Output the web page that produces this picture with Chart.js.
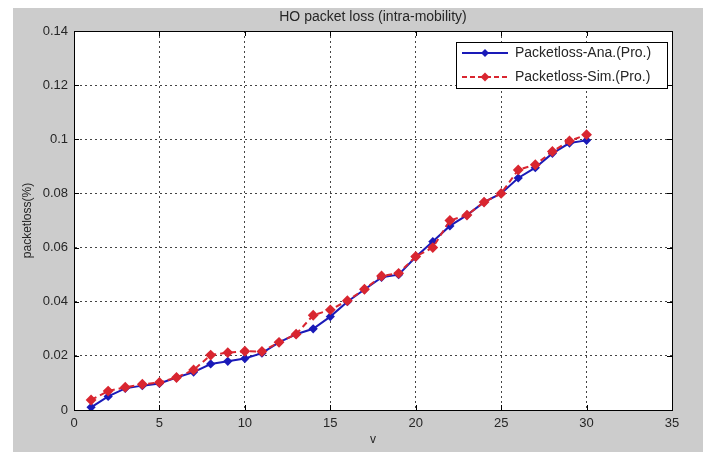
<!DOCTYPE html>
<html><head><meta charset="utf-8">
<script src="https://cdn.jsdelivr.net/npm/chart.js@4.4.1/dist/chart.umd.min.js"></script>
<style>html,body{margin:0;padding:0;background:#fff}</style>
</head><body>
<canvas id="c" width="711" height="452" style="display:block;width:711px;height:452px"></canvas>
<script>
const xValues = [1,2,3,4,5,6,7,8,9,10,11,12,13,14,15,16,17,18,19,20,21,22,23,24,25,26,27,28,29,30];
const anaValues = [0.001,0.005,0.008,0.009,0.0098,0.012,0.014,0.017,0.018,0.019,0.021,0.025,0.028,0.030,0.0345,0.040,0.0445,0.049,0.050,0.0565,0.0622,0.068,0.072,0.0768,0.080,0.0857,0.0895,0.0948,0.0986,0.0996];
const simValues = [0.0037,0.007,0.0084,0.0095,0.0102,0.012,0.0148,0.0203,0.0212,0.0217,0.0216,0.025,0.028,0.035,0.037,0.0404,0.0446,0.0495,0.0505,0.0567,0.060,0.070,0.072,0.0768,0.080,0.0887,0.0906,0.0955,0.0994,0.1017];
const xTicks = [0,5,10,15,20,25,30,35];
const yTicks = [0,0.02,0.04,0.06,0.08,0.1,0.12,0.14];
const yTickLabels = ['0','0.02','0.04','0.06','0.08','0.1','0.12','0.14'];
const seriesNames = ['Packetloss-Ana.(Pro.)','Packetloss-Sim.(Pro.)'];
const titleText = 'HO packet loss (intra-mobility)';
const xLabel = 'v';
const yLabel = 'packetloss(%)';

const FONT = "'Liberation Sans', Arial, Helvetica, sans-serif";
const BLUE = '#1a1ab8';
const RED = '#d92630';

function legendSample(color, dash, r) {
  const c = document.createElement('canvas');
  c.width = 46; c.height = 14;
  const g = c.getContext('2d');
  g.strokeStyle = color; g.lineWidth = 2; g.setLineDash(dash);
  g.beginPath(); g.moveTo(0, 7); g.lineTo(46, 7); g.stroke();
  g.setLineDash([]); g.fillStyle = color;
  g.beginPath(); g.moveTo(23, 7 - r); g.lineTo(23 + r, 7); g.lineTo(23, 7 + r); g.lineTo(23 - r, 7); g.closePath(); g.fill();
  return c;
}
const legendIcons = [legendSample(BLUE, [], 4), legendSample(RED, [5, 3], 4.5)];

const bgPlugin = {
  id: 'bg',
  beforeDraw(chart) {
    const {ctx, chartArea: a} = chart;
    ctx.save();
    ctx.fillStyle = '#ffffff'; ctx.fillRect(0, 0, chart.width, chart.height);
    ctx.fillStyle = '#cccccc'; ctx.fillRect(13, 8, 690, 444);
    ctx.fillStyle = '#ffffff'; ctx.fillRect(a.left, a.top, a.right - a.left, a.bottom - a.top);
    ctx.restore();
  }
};

const framePlugin = {
  id: 'frame',
  afterLayout(chart) {
    const lg = chart.legend;
    if (lg && !lg._wrapped) {
      const orig = lg.draw.bind(lg);
      lg.draw = function () {
        const a = chart.chartArea, ctx = chart.ctx;
        const bx = a.right - 216, by = a.top + 11, bw = 211, bh = 46;
        ctx.save();
        ctx.fillStyle = '#fff'; ctx.fillRect(bx, by, bw, bh);
        ctx.strokeStyle = '#000'; ctx.lineWidth = 1; ctx.strokeRect(bx + 0.5, by + 0.5, bw, bh);
        ctx.restore();
        lg.left = bx - 4; lg.top = by - 6;
        lg.right = lg.left + lg.width; lg.bottom = lg.top + lg.height;
        orig();
      };
      lg._wrapped = true;
    }
  },
  afterDatasetsDraw(chart) {
    const {ctx, chartArea: a, scales: {x, y}} = chart;
    ctx.save();
    ctx.strokeStyle = '#000'; ctx.lineWidth = 1;
    ctx.strokeRect(a.left + 0.5, a.top + 0.5, a.right - a.left, a.bottom - a.top);
    ctx.beginPath();
    xTicks.forEach(v => {
      const px = Math.round(x.getPixelForValue(v)) + 0.5;
      ctx.moveTo(px, a.bottom); ctx.lineTo(px, a.bottom - 5);
      ctx.moveTo(px, a.top); ctx.lineTo(px, a.top + 5);
    });
    yTicks.forEach(v => {
      const py = Math.round(y.getPixelForValue(v)) + 0.5;
      ctx.moveTo(a.left, py); ctx.lineTo(a.left + 5, py);
      ctx.moveTo(a.right, py); ctx.lineTo(a.right - 5, py);
    });
    ctx.stroke();
    ctx.restore();
  }
};

new Chart(document.getElementById('c'), {
  type: 'line',
  data: {
    datasets: [
      {
        label: seriesNames[0],
        data: xValues.map((v, i) => ({x: v, y: anaValues[i]})),
        borderColor: BLUE, backgroundColor: BLUE, borderWidth: 2,
        pointStyle: 'rectRot', pointRadius: 3.2, pointBackgroundColor: BLUE, pointBorderColor: BLUE,
        tension: 0, fill: false, order: 1
      },
      {
        label: seriesNames[1],
        data: xValues.map((v, i) => ({x: v, y: simValues[i]})),
        borderColor: RED, backgroundColor: RED, borderWidth: 2, borderDash: [6, 4],
        pointStyle: 'rectRot', pointRadius: 4, pointBackgroundColor: RED, pointBorderColor: RED,
        tension: 0, fill: false, order: 0
      }
    ]
  },
  options: {
    responsive: false,
    animation: false,
    devicePixelRatio: 1,
    layout: {padding: {left: 0, top: 0, right: 39, bottom: 0}},
    scales: {
      x: {
        type: 'linear', min: 0, max: 35,
        afterBuildTicks: s => { s.ticks = xTicks.map(v => ({value: v})); },
        afterFit: s => { s.height = 42; },
        ticks: {font: {family: FONT, size: 13}, color: '#262626', padding: 6, maxRotation: 0, callback: v => String(v)},
        grid: {color: '#444', lineWidth: 1, drawTicks: false},
        border: {display: true, color: '#000', width: 1, dash: [2, 3]},
        title: {display: true, text: xLabel, font: {family: FONT, size: 12}, color: '#262626', padding: {top: 0, bottom: 5}}
      },
      y: {
        type: 'linear', min: 0, max: 0.14,
        afterBuildTicks: s => { s.ticks = yTicks.map(v => ({value: v})); },
        afterFit: s => { s.width = 74; },
        ticks: {font: {family: FONT, size: 13}, color: '#262626', padding: 6, callback: (v, i) => yTickLabels[i]},
        grid: {color: '#444', lineWidth: 1, drawTicks: false},
        border: {display: true, color: '#000', width: 1, dash: [2, 3]},
        title: {display: true, text: yLabel, font: {family: FONT, size: 12}, color: '#262626', padding: {top: 20, bottom: 0}}
      }
    },
    plugins: {
      title: {display: true, text: titleText, fullSize: false, font: {family: FONT, size: 14, weight: 'normal'}, color: '#262626', padding: {top: 8.6, bottom: 5.6}},
      legend: {
        display: true, position: 'chartArea', align: 'start',
        labels: {
          usePointStyle: true, pointStyleWidth: 46, boxHeight: 12, padding: 10,
          font: {family: FONT, size: 14}, color: '#262626',
          sort: (a, b) => a.datasetIndex - b.datasetIndex,
          generateLabels: chart => Chart.defaults.plugins.legend.labels.generateLabels(chart).map(it => Object.assign(it, {pointStyle: legendIcons[it.datasetIndex]}))
        }
      },
      tooltip: {enabled: false}
    }
  },
  plugins: [bgPlugin, framePlugin]
});
</script>
</body></html>
